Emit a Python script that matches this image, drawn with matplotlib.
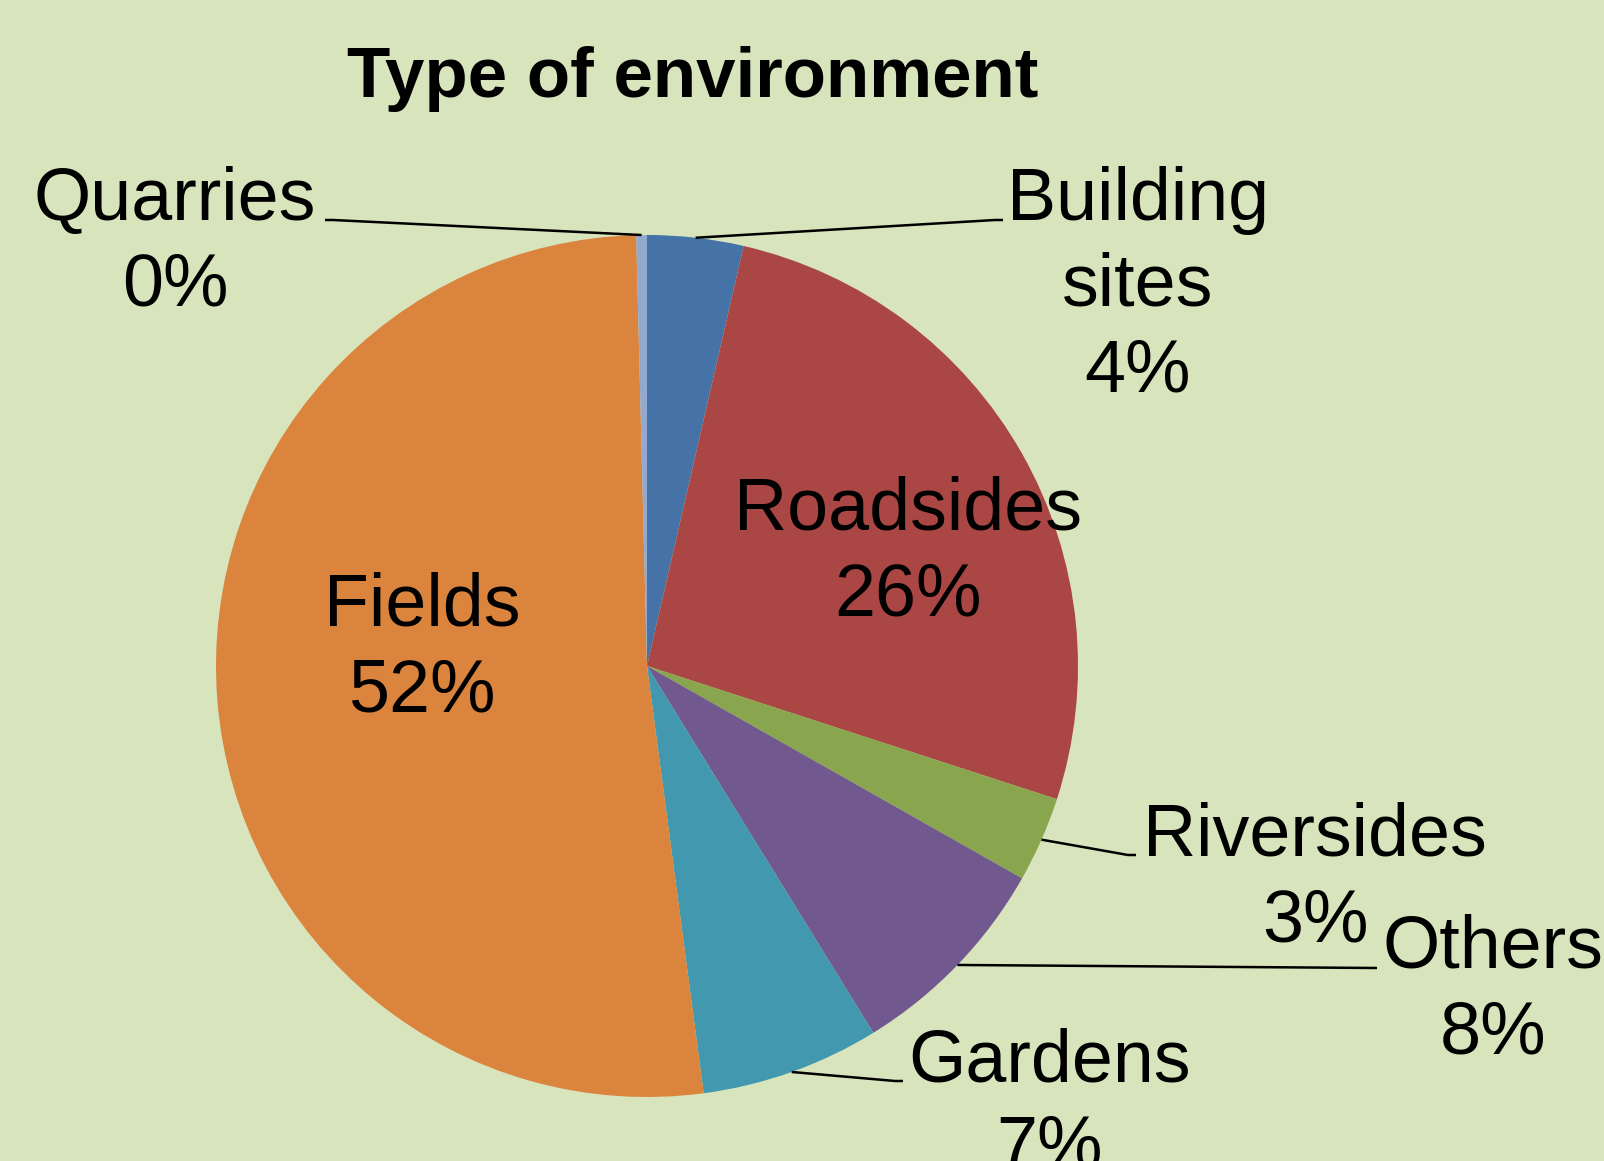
import numpy as np
import matplotlib
matplotlib.use('Agg')
import matplotlib.pyplot as plt

# data
categories = ['Building sites', 'Roadsides', 'Riversides', 'Others',
              'Gardens', 'Fields', 'Quarries']
shares = [3.6, 26.4, 3.2, 8.0, 6.7, 51.7, 0.4]
colors = ['#4572A7', '#AA4643', '#89A54E', '#71588F',
          '#4198AF', '#DB843D', '#93A9CF']
title = 'Type of environment'

# label layout, pixels from top-left: (label lines, centre x, first baseline y)
W, H = 1604, 1161
label_lines = {
    'Building sites': ['Building', 'sites'],
    'Roadsides': ['Roadsides'],
    'Riversides': ['Riversides'],
    'Others': ['Others'],
    'Gardens': ['Gardens'],
    'Fields': ['Fields'],
    'Quarries': ['Quarries'],
}
label_pos = {
    'Building sites': (1138, 220),
    'Roadsides': (908, 530),
    'Riversides': (1315, 855),
    'Others': (1493, 968),
    'Gardens': (1049, 1082),
    'Fields': (422, 626),
    'Quarries': (175, 220),
}
# leader lines: elbow and end point
leaders = {
    'Building sites': [(995, 220), (1003, 220)],
    'Riversides': [(1128, 855), (1136, 855)],
    'Others': [(1377, 968)],
    'Gardens': [(895, 1081), (903, 1081)],
    'Quarries': [(333, 220), (325, 220)],
}
LINE_STEP = 86
CX, CY, R = 647, 666, 431
BG = '#D8E4BC'

plt.rcParams['font.family'] = ['Liberation Sans', 'DejaVu Sans']


def Y(y):
    return H - y


def main():
    fig = plt.figure(figsize=(W / 100, H / 100), dpi=100, facecolor=BG)
    ax = fig.add_axes([0, 0, 1, 1])
    ax.set_facecolor(BG)

    wedges, _ = ax.pie(shares, colors=colors, startangle=90, counterclock=False,
                       center=(CX, Y(CY)), radius=R,
                       wedgeprops=dict(linewidth=0))
    ax.set_xlim(0, W)
    ax.set_ylim(0, H)
    ax.set_aspect('auto')
    ax.axis('off')

    total = sum(shares)
    for w, cat, val in zip(wedges, categories, shares):
        lines = label_lines[cat] + [f'{round(100 * val / total):.0f}%']
        x, y0 = label_pos[cat]
        for i, s in enumerate(lines):
            ax.text(x, Y(y0 + i * LINE_STEP), s, ha='center', va='baseline',
                    fontsize=53, color='black')

        # leader from arc at the wedge mid-angle
        if cat in leaders:
            ang = np.deg2rad((w.theta1 + w.theta2) / 2)
            sx = CX + R * np.cos(ang)
            sy = Y(CY) + R * np.sin(ang)
            xs = [sx] + [p[0] for p in leaders[cat]]
            ys = [sy] + [Y(p[1]) for p in leaders[cat]]
            ax.plot(xs, ys, color='black', lw=1.8, solid_capstyle='butt')

    ax.text(693, Y(97), title, ha='center', va='baseline', fontsize=51,
            fontweight='bold')

    fig.savefig('out.png', dpi=100, facecolor=BG)


if __name__ == '__main__':
    main()
